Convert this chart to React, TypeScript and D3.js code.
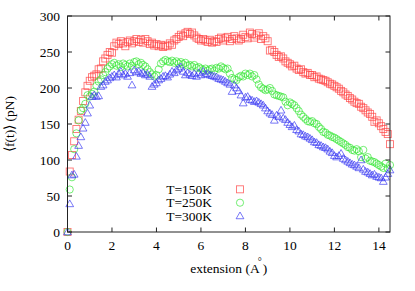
import React from "react";
import * as d3 from "d3";

// extension grid (Å), step 0.1 from 0 to 14.5
const extension: number[] = d3.range(0, 146).map((i) => i / 10);

const t150: number[] = [
  0, 84, 107, 126, 143, 156, 168, 182, 194, 203,
  210, 215, 217, 219, 226, 227, 237, 241, 246, 250,
  249, 258, 263, 261, 265, 262, 258, 264, 266, 262,
  265, 268, 264, 267, 263, 268, 265, 261, 263, 259,
  261, 258, 260, 257, 259, 258, 262, 260, 266, 268,
  271, 274, 272, 276, 278, 275, 277, 273, 270, 268,
  266, 268, 266, 264, 267, 263, 265, 264, 268, 270,
  266, 269, 271, 265, 268, 272, 269, 266, 268, 274,
  271, 269, 277, 275, 270, 273, 276, 268, 272, 269,
  265, 252, 253, 250, 246, 243, 244, 241, 237, 235,
  233, 230, 231, 227, 225, 226, 222, 220, 221, 218,
  218, 215, 216, 213, 212, 211, 210, 208, 206, 205,
  203, 201, 199, 196, 194, 191, 189, 186, 184, 181,
  179, 178, 174, 172, 169, 166, 164, 160, 153, 155,
  151, 147, 143, 139, 136, 122,
];

const t250: number[] = [
  0, 59, 76, 115, 137, 155, 169, 172, 178, 190,
  188, 192, 195, 203, 209, 212, 218, 222, 227, 230,
  233, 235, 231, 233, 229, 234, 232, 230, 234, 231,
  236, 237, 233, 235, 232, 230, 226, 222, 219, 216,
  218, 226, 234, 237, 239, 237, 236, 238, 235, 237,
  234, 236, 233, 235, 231, 232, 230, 232, 228, 229,
  227, 225, 227, 224, 226, 227, 224, 228, 227, 230,
  228, 226, 227, 220, 214, 212, 211, 215, 217, 216,
  220, 218, 220, 216, 218, 212, 205, 201, 199, 197,
  198, 200, 196, 191, 190, 189, 188, 187, 181, 176,
  180, 178, 176, 172, 168, 163, 160, 157, 154, 153,
  154, 151, 150, 146, 143, 139, 138, 135, 134, 132,
  131, 129, 127, 125, 123, 121, 118, 117, 114, 113,
  115, 112, 104, 114, 102, 104, 99, 98, 97, 95,
  93, 91, 89, 95, 88, 93,
];

const t300: number[] = [
  0, 39, 79, 80, 105, 120, 132, 144, 152, 165,
  176, 188, 190, 188, 189, 202, 204, 209, 211, 214,
  216, 218, 215, 220, 223, 218, 220, 216, 221, 204,
  225, 222, 223, 220, 221, 218, 219, 216, 202, 205,
  207, 211, 213, 216, 217, 215, 219, 223, 221, 225,
  227, 229, 223, 218, 221, 219, 217, 220, 216, 221,
  218, 223, 219, 220, 218, 217, 216, 215, 213, 212,
  211, 209, 207, 205, 195, 204, 200, 196, 190, 179,
  187, 188, 184, 183, 181, 182, 180, 178, 176, 172,
  168, 165, 163, 155, 162, 160, 169, 158, 156, 152,
  149, 146, 148, 142, 140, 136, 135, 133, 132, 130,
  128, 125, 124, 121, 120, 118, 117, 115, 112, 110,
  106, 104, 106, 109, 102, 100, 98, 96, 94, 93,
  91, 89, 100, 87, 84, 83, 81, 79, 80, 77,
  76, 75, 70, 76, 81, 86,
];

const xTicks: number[] = [0, 2, 4, 6, 8, 10, 12, 14];
const yTicks: number[] = [0, 50, 100, 150, 200, 250, 300];
const legendLabels: string[] = ["T=150K", "T=250K", "T=300K"];

const W = 415;
const H = 291;
const M = { left: 67.5, right: 390, top: 16, bottom: 232 };
const FONT = '"Liberation Serif", "Times New Roman", Times, serif';
const FS = 13.5;
const colors = ["#ff4040", "#33e633", "#3636f2"];

const x = d3.scaleLinear().domain([0, 14.5]).range([M.left, M.right]);
const y = d3.scaleLinear().domain([0, 300]).range([M.bottom, M.top]);

const sq = 3.5;
const cr = 3.6;
const triPath = d3.symbol().type(d3.symbolTriangle).size(26)() as string;

function Marker({ kind, cx, cy, color }: { kind: number; cx: number; cy: number; color: string }) {
  const common = { fill: "none", stroke: color, strokeWidth: 0.9, strokeOpacity: 0.75 };
  if (kind === 0)
    return <rect x={cx - sq} y={cy - sq} width={sq * 2} height={sq * 2} {...common} />;
  if (kind === 1) return <circle cx={cx} cy={cy} r={cr} {...common} />;
  return <path d={triPath} transform={`translate(${cx},${cy + 0.5})`} {...common} />;
}

export default function App() {
  const series = [t150, t250, t300];
  const legendY = [189.3, 202.7, 216];
  return (
    <svg
      width={W}
      height={H}
      style={{ position: "absolute", left: 0, top: 0, background: "#fff", fontFamily: FONT, fontSize: FS }}
    >
      {/* data */}
      {series.map((vals, si) => (
        <g key={si}>
          {vals.map((v, i) => (
            <Marker key={i} kind={si} cx={x(extension[i])} cy={y(v)} color={colors[si]} />
          ))}
        </g>
      ))}

      {/* frame */}
      <rect
        x={M.left}
        y={M.top}
        width={M.right - M.left}
        height={M.bottom - M.top}
        fill="none"
        stroke="#222"
        strokeWidth={1}
      />
      {/* ticks */}
      {xTicks.map((t) => (
        <g key={"x" + t}>
          <line x1={x(t)} x2={x(t)} y1={M.bottom} y2={M.bottom - 4.5} stroke="#222" />
          <line x1={x(t)} x2={x(t)} y1={M.top} y2={M.top + 4.5} stroke="#222" />
          <text x={x(t)} y={250} textAnchor="middle" fill="#000">
            {t}
          </text>
        </g>
      ))}
      {yTicks.map((t) => (
        <g key={"y" + t}>
          <line x1={M.left} x2={M.left + 4.5} y1={y(t)} y2={y(t)} stroke="#222" />
          <line x1={M.right} x2={M.right - 4.5} y1={y(t)} y2={y(t)} stroke="#222" />
          <text x={60} y={y(t)} dy="0.35em" textAnchor="end" fill="#000">
            {t}
          </text>
        </g>
      ))}

      {/* axis labels */}
      <text x={(M.left + M.right) / 2} y={273} textAnchor="middle" fill="#000">
        extension (A
        <tspan dx={-2} dy={-8.5} fontSize={10}>
          °
        </tspan>
        <tspan dy={8.5} dx={1}>
          )
        </tspan>
      </text>
      <text
        transform={`translate(14,${(M.top + M.bottom) / 2}) rotate(-90)`}
        textAnchor="middle"
        fill="#000"
      >
        ⟨f(t)⟩ (pN)
      </text>

      {/* legend */}
      {legendLabels.map((lab, i) => (
        <g key={lab}>
          <text x={212} y={legendY[i]} dy="0.35em" textAnchor="end" fill="#000">
            {lab}
          </text>
          <Marker kind={i} cx={240} cy={legendY[i]} color={colors[i]} />
        </g>
      ))}
    </svg>
  );
}
